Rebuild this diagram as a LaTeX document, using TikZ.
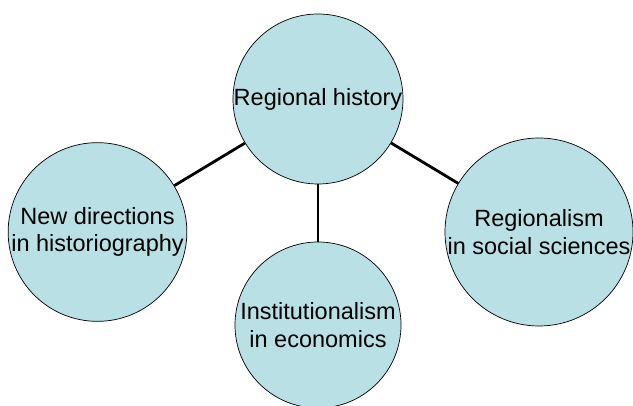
\documentclass[tikz,border=0pt]{standalone}
\usepackage{fontspec}
\setmainfont{Liberation Sans}
\definecolor{bubble}{RGB}{185,224,228}
\begin{document}
\begin{tikzpicture}[x=1pt,y=-1pt,
  bubble/.style={circle,draw=black,line width=0.7pt,fill=bubble,minimum size=170pt,inner sep=0pt,align=center,font=\fontsize{23.5}{27.5}\selectfont},
  link/.style={line width=2.8pt,draw=black}]
\useasboundingbox (0,0) rectangle (633,406);
\clip (0,0) rectangle (633,406);
\node[bubble] (top) at (318,99) {Regional history};
\node[bubble] (left) at (97.5,232) {New directions\\in historiography};
\node[bubble] (right) at (539,232) {Regionalism\\in social sciences};
\node[bubble,minimum size=166pt] (bottom) at (318,325) {Institutionalism\\in economics};
\draw[link] (top) -- (left);
\draw[link] (top) -- (right);
\draw[link] (top) -- (bottom);
\end{tikzpicture}
\end{document}
